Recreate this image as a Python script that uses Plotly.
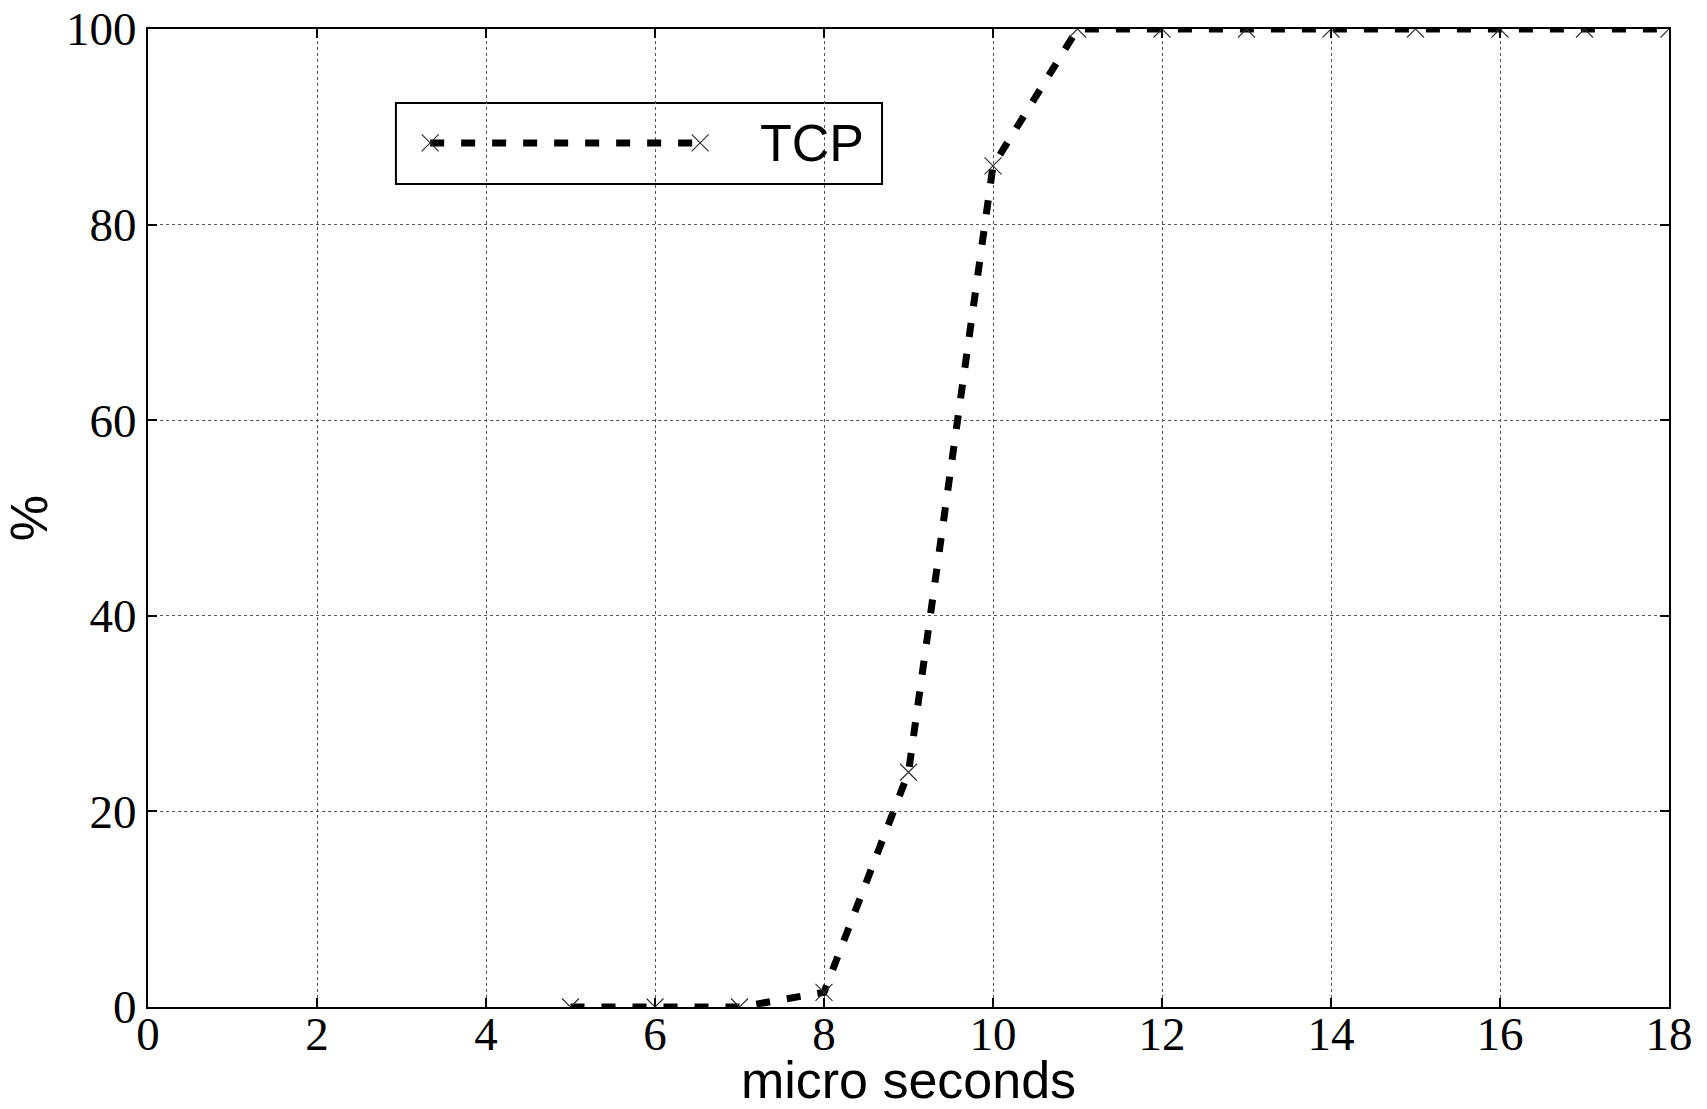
import plotly.graph_objects as go

# Data
x_us = [5, 6, 7, 8, 9, 10, 11, 12, 13, 14, 15, 16, 17, 18]
tcp_pct = [0, 0, 0, 1.5, 24, 86, 100, 100, 100, 100, 100, 100, 100, 100]
x_ticks = [0, 2, 4, 6, 8, 10, 12, 14, 16, 18]
y_ticks = [0, 20, 40, 60, 80, 100]
series_name = "TCP"

# Layout constants (paper fractions of the plot area) for the hand-drawn legend
LEG_BOX = dict(x0=0.163, x1=0.4826, y0=0.8415, y1=0.9243)
LEG_LINE_X = [0.1855, 0.3630]
LEG_LINE_Y = 0.8835
LEG_TEXT_X = 0.401

SERIF = "Liberation Serif, DejaVu Serif, serif"
SANS = "Liberation Sans, Arial, sans-serif"

line_style = dict(color="black", width=7, dash="14px,17px")
marker_style = dict(symbol="x-thin-open", size=17, color="#333333",
                    line=dict(width=1.2, color="#333333"))

fig = go.Figure()
fig.add_trace(go.Scatter(
    x=x_us, y=tcp_pct, mode="lines+markers", name=series_name,
    line=line_style, marker=marker_style, showlegend=False,
))

# Legend sample (drawn on an overlay axis spanning [0,1])
fig.add_trace(go.Scatter(
    x=LEG_LINE_X, y=[LEG_LINE_Y, LEG_LINE_Y], mode="lines+markers",
    line=line_style, marker=marker_style, showlegend=False,
    xaxis="x2", yaxis="y2", hoverinfo="skip",
))

axis_common = dict(
    showline=True, linecolor="black", linewidth=2, mirror="allticks",
    ticks="inside", ticklen=9, tickwidth=1.5, tickcolor="black",
    showgrid=True, gridcolor="#555555", griddash="dot", gridwidth=1,
    zeroline=False, tickfont=dict(family=SERIF, size=47, color="black"),
    automargin=False,
)

fig.update_layout(
    width=1707, height=1109,
    margin=dict(l=148, r=38, t=29, b=102),
    paper_bgcolor="white", plot_bgcolor="white",
    xaxis=dict(range=[0, 18], tickvals=x_ticks, ticktext=[str(v) for v in x_ticks],
               ticklabelstandoff=-15,
               title=dict(text="micro seconds", font=dict(family=SANS, size=52, color="black"),
                          standoff=16),
               **axis_common),
    yaxis=dict(range=[0, 100], tickvals=y_ticks, ticktext=[str(v) for v in y_ticks],
               title=dict(text="%", font=dict(family=SANS, size=52, color="black"),
                          standoff=14),
               **axis_common),
    xaxis2=dict(range=[0, 1], overlaying="x", visible=False, fixedrange=True),
    yaxis2=dict(range=[0, 1], overlaying="y", visible=False, fixedrange=True),
    showlegend=False,
    shapes=[dict(type="rect", xref="paper", yref="paper", **LEG_BOX,
                 line=dict(color="black", width=2), fillcolor="white", layer="between")],
    annotations=[dict(x=LEG_TEXT_X, y=LEG_LINE_Y, xref="paper", yref="paper",
                      text=series_name, showarrow=False, xanchor="left", yanchor="middle",
                      font=dict(family=SANS, size=52, color="black"))],
)

fig.write_html("out.html")
